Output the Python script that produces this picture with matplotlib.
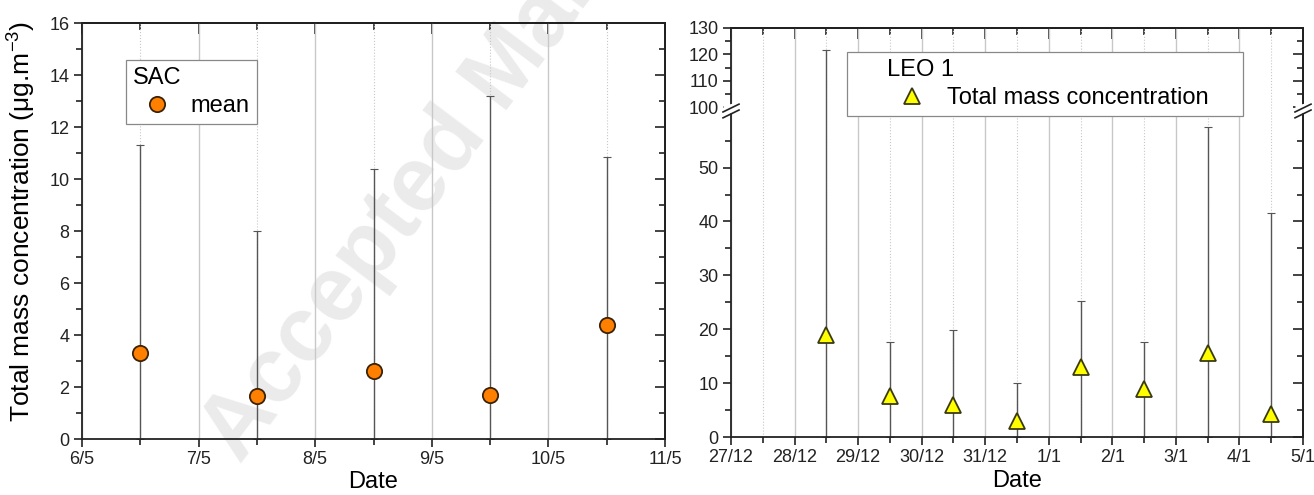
import numpy as np
import matplotlib
matplotlib.use("Agg")
import matplotlib.pyplot as plt
from matplotlib.ticker import MultipleLocator, FixedLocator, NullFormatter

plt.rcParams["font.family"] = ["Liberation Sans", "DejaVu Sans"]
plt.rcParams["mathtext.fontset"] = "custom"
plt.rcParams["mathtext.rm"] = "Liberation Sans"
plt.rcParams["mathtext.it"] = "Liberation Sans:italic"
plt.rcParams["mathtext.default"] = "regular"

# SAC site (left panel): day labels, mean and upper end of the error bar
sac_days = ["6/5", "7/5", "8/5", "9/5", "10/5", "11/5"]
sac_pos = [0.5, 1.5, 2.5, 3.5, 4.5]
sac_mean = [3.3, 1.65, 2.6, 1.7, 4.4]
sac_upper = [11.3, 8.0, 10.4, 13.2, 10.85]

# LEO 1 site (right panel)
leo_days = ["27/12", "28/12", "29/12", "30/12", "31/12", "1/1", "2/1", "3/1", "4/1", "5/1"]
leo_pos = [1.5, 2.5, 3.5, 4.5, 5.5, 6.5, 7.5, 8.5]
leo_mean = [19.0, 7.7, 6.0, 3.0, 13.0, 9.0, 15.5, 4.3]
leo_upper = [121.5, 17.6, 19.8, 10.1, 25.2, 17.6, 57.5, 41.5]

W, H = 1314, 495
fig = plt.figure(figsize=(W / 100, H / 100), dpi=100)

# faint watermark behind everything (axes are transparent)
fig.text(240 / W, 1 - 465 / H, "Accepted Manuscript", fontsize=66, fontweight="bold",
         color="#ebebeb", rotation=53, rotation_mode="anchor", ha="left", va="baseline", zorder=-1)

ax1 = fig.add_axes([82 / W, 1 - 439 / H, 583 / W, 416 / H])
axT = fig.add_axes([731 / W, 1 - 111 / H, 572 / W, 83 / H])
axB = fig.add_axes([731 / W, 1 - 437 / H, 572 / W, 326 / H])

spine_col = "#222222"
grid_col = "#c8c8c8"
err_col = "#555555"
tick_fs = 13


def style_axis(ax, nticks, xlabels, bottom=True, top=True):
    ax.set_facecolor("none")
    for s in ax.spines.values():
        s.set_linewidth(1.3)
        s.set_color(spine_col)
    ax.set_xlim(0, nticks - 1)
    ax.xaxis.set_major_locator(FixedLocator(range(nticks)))
    ax.xaxis.set_minor_locator(MultipleLocator(0.5))
    ax.grid(True, which="major", axis="x", color=grid_col, lw=1.0, zorder=0)
    ax.grid(True, which="minor", axis="x", color=grid_col, lw=0.8, ls=":", zorder=0)
    ax.tick_params(which="both", direction="out", colors=spine_col, labelsize=tick_fs,
                   width=1.2, labelcolor="#222222")
    ax.tick_params(which="major", length=6, pad=3)
    ax.tick_params(which="minor", length=4)
    if bottom:
        ax.set_xticklabels(xlabels)
    else:
        ax.tick_params(axis="x", which="both", bottom=False, labelbottom=False)
    if top:
        sec = ax.secondary_xaxis("top")
        sec.xaxis.set_major_locator(FixedLocator(range(nticks)))
        sec.xaxis.set_minor_locator(MultipleLocator(0.5))
        sec.tick_params(which="both", direction="in", labeltop=False, width=1.2, colors=spine_col)
        sec.tick_params(which="major", length=8)
        sec.tick_params(which="minor", length=5)
        sec.spines["top"].set_linewidth(1.3)
    secy = ax.secondary_yaxis("right")
    secy.yaxis.set_major_locator(ax.yaxis.get_major_locator())
    secy.yaxis.set_minor_locator(ax.yaxis.get_minor_locator())
    secy.yaxis.set_major_formatter(NullFormatter())
    secy.tick_params(which="both", direction="in", width=1.2, colors=spine_col)
    secy.tick_params(which="major", length=7)
    secy.tick_params(which="minor", length=4)
    secy.spines["right"].set_linewidth(1.3)


def error_bars(ax, pos, mean, upper, marker, face, edge, ms, label):
    mean = np.array(mean)
    yerr = [mean, np.array(upper) - mean]  # bars run down to the axis
    ax.errorbar(pos, mean, yerr=yerr, fmt="none", ecolor=err_col, elinewidth=1.0,
                capsize=3, capthick=0.8, zorder=2)
    ax.plot(pos, mean, marker, ms=ms, mfc=face, mec=edge, mew=1.3, ls="none",
            label=label, zorder=3)


# ---- left panel ----
ax1.set_ylim(0, 16)
ax1.yaxis.set_major_locator(MultipleLocator(2))
ax1.yaxis.set_minor_locator(MultipleLocator(1))
style_axis(ax1, len(sac_days), sac_days)
error_bars(ax1, sac_pos, sac_mean, sac_upper, "o", "#ff8000", "#3a2206", 11, "mean")
ax1.set_ylabel("Total mass concentration (\u03bcg.m$^{-3}$)", fontsize=19)
ax1.yaxis.set_label_coords(-0.075, 0.524)
ax1.set_xlabel("Date", fontsize=17)
ax1.xaxis.set_label_coords(0.5, -0.078)
leg1 = ax1.legend(title="SAC", loc="upper left", bbox_to_anchor=((126 - 82) / 583, (439 - 60) / 416),
                  borderaxespad=0, fontsize=17, title_fontsize=17, alignment="left",
                  fancybox=False, framealpha=1, edgecolor="#888888", borderpad=0.3,
                  handlelength=2.0, handletextpad=0.45, labelspacing=0.25)
leg1.get_frame().set_linewidth(0.9)

# ---- right panel (broken y axis) ----
axT.set_ylim(98.5, 130)
axT.yaxis.set_major_locator(MultipleLocator(10))
axT.yaxis.set_minor_locator(MultipleLocator(5))
axB.set_ylim(0, 60.5)
axB.yaxis.set_major_locator(FixedLocator([0, 10, 20, 30, 40, 50]))
axB.yaxis.set_minor_locator(FixedLocator([5, 15, 25, 35, 45, 55]))
style_axis(axT, len(leo_days), leo_days, bottom=False, top=True)
style_axis(axB, len(leo_days), leo_days, bottom=True, top=False)
axT.spines["bottom"].set_visible(False)
axB.spines["top"].set_visible(False)

for ax in (axT, axB):
    error_bars(ax, leo_pos, leo_mean, leo_upper, "^", "#ffff00", "#3a3a10", 12,
               "Total mass concentration")
axB.set_xlabel("Date", fontsize=17)
axB.xaxis.set_label_coords(0.5, -0.1)

# break marks on both spines
for xb in (0, 1):
    axB.fill([xb - 0.012, xb + 0.012, xb + 0.012, xb - 0.012],
             [0.99, 1.0, 1.024, 1.014], transform=axB.transAxes, color="white",
             clip_on=False, zorder=5)
    for dy in (-0.009, 0.009):
        axB.plot([xb - 0.014, xb + 0.014], [1 + dy - 0.012, 1 + dy + 0.012],
                 transform=axB.transAxes, color=spine_col, lw=1.2, clip_on=False, zorder=6)

h, l = axB.get_legend_handles_labels()
leg2 = fig.legend(h[:1], ["Total mass concentration    "], title="     LEO 1",
                  loc="upper left", bbox_to_anchor=(847 / W, 1 - 52 / H), borderaxespad=0,
                  fontsize=17, title_fontsize=17, alignment="left", fancybox=False,
                  framealpha=1, edgecolor="#888888", borderpad=0.3, handlelength=4.9,
                  handletextpad=-0.95, labelspacing=0.25)
leg2.get_frame().set_linewidth(0.9)

fig.savefig("out.png", dpi=100)
